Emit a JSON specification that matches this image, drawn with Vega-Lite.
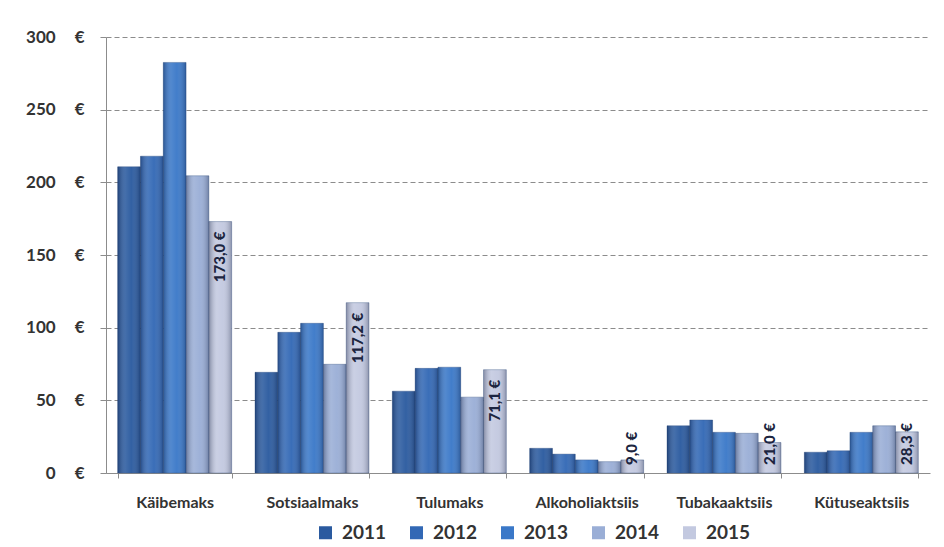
{
  "$schema": "https://vega.github.io/schema/vega-lite/v6.json",
  "autosize": "none",
  "width": 824,
  "height": 436,
  "padding": {"left": 106, "top": 37, "right": 14, "bottom": 74},
  "background": "white",
  "config": {
    "font": "Lato",
    "view": {"stroke": null},
    "locale": {
      "number": {"decimal": ",", "thousands": "\u00a0", "grouping": [3], "currency": ["", "\u00a0€"]}
    }
  },
  "data": {
    "values": [
      {"tax": "Käibemaks", "year": "2011", "value": 210.7},
      {"tax": "Käibemaks", "year": "2012", "value": 218.0},
      {"tax": "Käibemaks", "year": "2013", "value": 282.5},
      {"tax": "Käibemaks", "year": "2014", "value": 204.5},
      {"tax": "Käibemaks", "year": "2015", "value": 173.0},
      {"tax": "Sotsiaalmaks", "year": "2011", "value": 69.3},
      {"tax": "Sotsiaalmaks", "year": "2012", "value": 96.8},
      {"tax": "Sotsiaalmaks", "year": "2013", "value": 103.0},
      {"tax": "Sotsiaalmaks", "year": "2014", "value": 74.8},
      {"tax": "Sotsiaalmaks", "year": "2015", "value": 117.2},
      {"tax": "Tulumaks", "year": "2011", "value": 56.3},
      {"tax": "Tulumaks", "year": "2012", "value": 72.0},
      {"tax": "Tulumaks", "year": "2013", "value": 72.8},
      {"tax": "Tulumaks", "year": "2014", "value": 52.2},
      {"tax": "Tulumaks", "year": "2015", "value": 71.1},
      {"tax": "Alkoholiaktsiis", "year": "2011", "value": 17.0},
      {"tax": "Alkoholiaktsiis", "year": "2012", "value": 13.0},
      {"tax": "Alkoholiaktsiis", "year": "2013", "value": 9.0},
      {"tax": "Alkoholiaktsiis", "year": "2014", "value": 7.8},
      {"tax": "Alkoholiaktsiis", "year": "2015", "value": 9.0},
      {"tax": "Tubakaaktsiis", "year": "2011", "value": 32.5},
      {"tax": "Tubakaaktsiis", "year": "2012", "value": 36.5},
      {"tax": "Tubakaaktsiis", "year": "2013", "value": 28.0},
      {"tax": "Tubakaaktsiis", "year": "2014", "value": 27.3},
      {"tax": "Tubakaaktsiis", "year": "2015", "value": 21.0},
      {"tax": "Kütuseaktsiis", "year": "2011", "value": 14.3},
      {"tax": "Kütuseaktsiis", "year": "2012", "value": 15.3},
      {"tax": "Kütuseaktsiis", "year": "2013", "value": 28.0},
      {"tax": "Kütuseaktsiis", "year": "2014", "value": 32.5},
      {"tax": "Kütuseaktsiis", "year": "2015", "value": 28.3}
    ]
  },
  "encoding": {
    "x": {
      "field": "tax", "type": "nominal", "sort": null,
      "scale": {"paddingInner": 0.17, "paddingOuter": 0.085},
      "axis": {
        "title": null, "labelAngle": 0, "labelFont": "Lato", "labelFontSize": 16, "labelFontWeight": "bold",
        "labelColor": "#333333", "labelPadding": 16, "domainColor": "#8c8c8c", "tickColor": "#8c8c8c",
        "tickSize": 5, "tickBand": "extent", "grid": false
      }
    },
    "xOffset": {
      "field": "year", "type": "nominal",
      "scale": {"domain": ["2011", "2012", "2013", "2014", "2015"], "paddingInner": 0, "paddingOuter": 0}
    },
    "y": {
      "field": "value", "type": "quantitative",
      "scale": {"domain": [0, 300], "nice": false},
      "axis": {
        "title": null, "values": [0, 50, 100, 150, 200, 250, 300],
        "labelExpr": "datum.label + '\u2003\u2009 €'",
        "labelFont": "Lato", "labelFontSize": 17, "labelFontWeight": "bold", "labelColor": "#333333",
        "labelPadding": 16, "tickSize": 6, "tickColor": "#8c8c8c", "domainColor": "#8c8c8c",
        "grid": true, "gridColor": "#8c8c8c", "gridDash": [5, 3], "gridWidth": 1
      }
    }
  },
  "layer": [
    {
      "mark": {"type": "bar", "stroke": "#2a4a7a", "strokeWidth": 0.6, "strokeOpacity": 0.6},
      "encoding": {
        "color": {
          "field": "year", "type": "nominal",
          "scale": {"domain": ["2011", "2012", "2013", "2014", "2015"], "range": ["#2a5a9f", "#3268b5", "#3a78c8", "#9aaed6", "#c3c9e0"]},
          "legend": {
            "title": null, "orient": "none", "direction": "horizontal", "legendX": 210, "legendY": 486,
            "symbolType": "square", "symbolSize": 169, "symbolStrokeWidth": 0,
            "labelFont": "Lato", "labelFontSize": 19, "labelFontWeight": "bold", "labelColor": "#333333",
            "labelOffset": 7, "columnPadding": 20
          }
        }
      }
    },
    {
      "mark": {
        "type": "bar",
        "fill": {
          "gradient": "linear", "x1": 0, "x2": 1, "y1": 0, "y2": 0,
          "stops": [
            {"offset": 0, "color": "rgba(10,20,50,0.35)"},
            {"offset": 0.35, "color": "rgba(255,255,255,0.12)"},
            {"offset": 0.6, "color": "rgba(255,255,255,0.04)"},
            {"offset": 1, "color": "rgba(10,20,50,0.3)"}
          ]
        }
      }
    },
    {
      "transform": [{"filter": "datum.year == '2015' && datum.value >= 40"}],
      "mark": {"type": "text", "angle": 270, "align": "right", "baseline": "middle", "dx": -10,
               "font": "Lato", "fontSize": 15, "fontWeight": 900, "color": "#1c2540"},
      "encoding": {"text": {"field": "value", "type": "quantitative", "format": "$.1f"}}
    },
    {
      "transform": [{"filter": "datum.year == '2015' && datum.value < 40"}],
      "mark": {"type": "text", "angle": 270, "align": "left", "baseline": "middle", "dx": 8,
               "font": "Lato", "fontSize": 15, "fontWeight": 900, "color": "#1c2540"},
      "encoding": {
        "y": {"datum": 0, "type": "quantitative"},
        "text": {"field": "value", "type": "quantitative", "format": "$.1f"}
      }
    }
  ]
}
